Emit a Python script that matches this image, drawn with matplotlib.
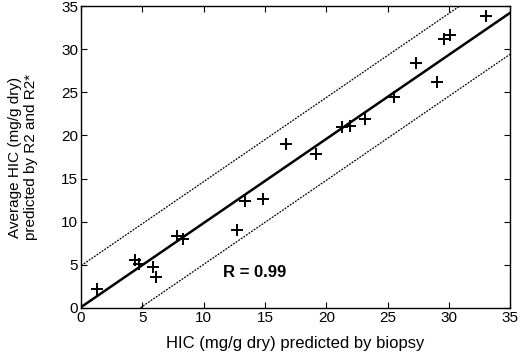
import numpy as np
import matplotlib.pyplot as plt

plt.rcParams['font.family'] = ['Liberation Sans', 'DejaVu Sans']

# biopsy HIC vs average MRI-predicted HIC (mg/g dry)
biopsy = [1.3, 4.4, 4.7, 5.9, 6.1, 7.8, 8.3, 12.7, 13.4, 14.8, 16.7,
          19.2, 21.3, 21.9, 23.2, 25.5, 27.3, 29.0, 29.6, 30.1, 33.0]
predicted = [2.2, 5.6, 5.1, 4.7, 3.6, 8.4, 8.0, 9.0, 12.4, 12.6, 19.0,
             17.9, 21.0, 21.1, 21.9, 24.5, 28.4, 26.2, 31.2, 31.6, 33.8]

slope = 0.975
intercept = 0.1
band = 4.8
r_text = 'R = 0.99'

fig = plt.figure(figsize=(5.2, 3.61), dpi=100)
ax = fig.add_axes([0.156, 0.147, 0.825, 0.836])

xs = np.array([0, 35])
ax.plot(xs, slope * xs + intercept, color='black', lw=1.8)
ax.plot(xs, slope * xs + intercept + band, color='black', lw=0.9, ls=(0, (1.5, 1)))
ax.plot(xs, slope * xs + intercept - band, color='black', lw=0.9, ls=(0, (1.5, 1)))
ax.plot(biopsy, predicted, '+', color='black', ms=8, mew=1.4)

ax.text(11.6, 4.1, r_text, fontsize=12, fontweight='bold', va='center')

ax.set_xlim(0, 35)
ax.set_ylim(0, 35)
ax.set_xticks(range(0, 36, 5))
ax.set_yticks(range(0, 36, 5))
ax.tick_params(direction='in', top=True, right=True, labelsize=11, length=4, pad=2)
for s in ax.spines.values():
    s.set_linewidth(1.0)

ax.set_xlabel('HIC (mg/g dry) predicted by biopsy', fontsize=12, labelpad=8)
ax.set_ylabel('Average HIC (mg/g dry)\npredicted by R2 and R2*', fontsize=11, labelpad=17,
              linespacing=1.15)

fig.savefig('out.png', dpi=100)
